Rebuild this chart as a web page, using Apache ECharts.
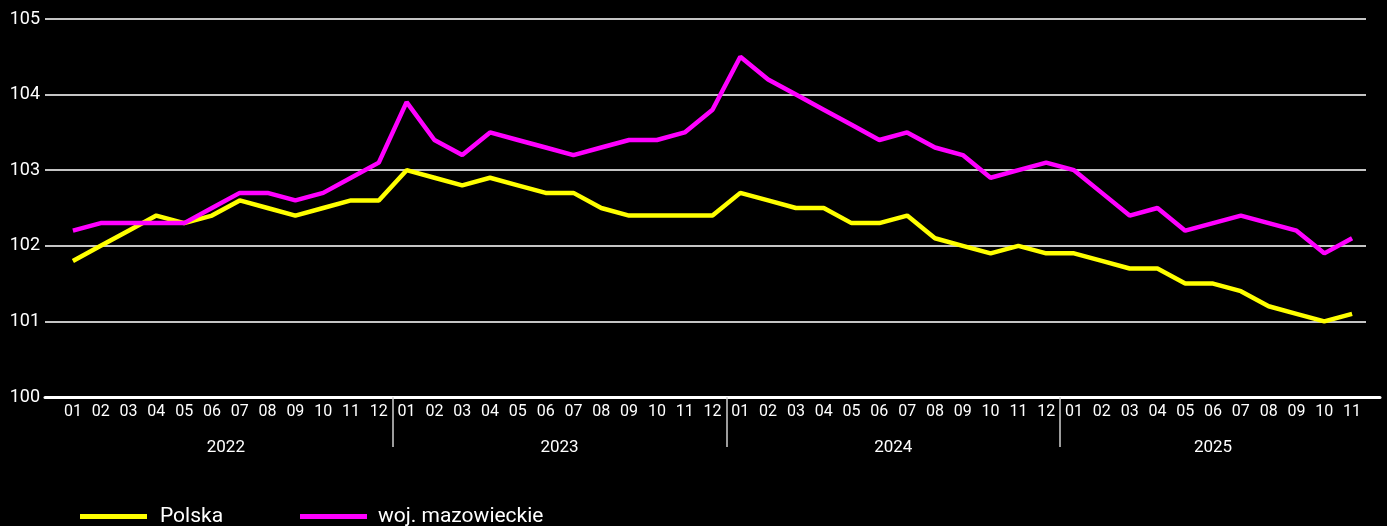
<!DOCTYPE html>
<html>
<head>
<meta charset="utf-8">
<script src="https://cdn.jsdelivr.net/npm/echarts@6/dist/echarts.min.js"></script>
<style>
html, body { margin: 0; padding: 0; background: #000; }
#main { width: 1387px; height: 526px; }
</style>
</head>
<body>
<div id="main"></div>
<script>
// miesiące (47 punktów: 2022-01 .. 2025-11)
var months = [
    '01','02','03','04','05','06','07','08','09','10','11','12',
    '01','02','03','04','05','06','07','08','09','10','11','12',
    '01','02','03','04','05','06','07','08','09','10','11','12',
    '01','02','03','04','05','06','07','08','09','10','11'
];
var years = ['2022', '2023', '2024', '2025'];
var yearLen = [12, 12, 12, 11];
var seriesNames = ['Polska', 'woj. mazowieckie'];

var polska = [
    101.8, 102.0, 102.2, 102.4, 102.3, 102.4, 102.6, 102.5, 102.4, 102.5, 102.6, 102.6,
    103.0, 102.9, 102.8, 102.9, 102.8, 102.7, 102.7, 102.5, 102.4, 102.4, 102.4, 102.4,
    102.7, 102.6, 102.5, 102.5, 102.3, 102.3, 102.4, 102.1, 102.0, 101.9, 102.0, 101.9,
    101.9, 101.8, 101.7, 101.7, 101.5, 101.5, 101.4, 101.2, 101.1, 101.0, 101.1
];
var mazowieckie = [
    102.2, 102.3, 102.3, 102.3, 102.3, 102.5, 102.7, 102.7, 102.6, 102.7, 102.9, 103.1,
    103.9, 103.4, 103.2, 103.5, 103.4, 103.3, 103.2, 103.3, 103.4, 103.4, 103.5, 103.8,
    104.5, 104.2, 104.0, 103.8, 103.6, 103.4, 103.5, 103.3, 103.2, 102.9, 103.0, 103.1,
    103.0, 102.7, 102.4, 102.5, 102.2, 102.3, 102.4, 102.3, 102.2, 101.9, 102.1
];
var yMin = 100, yMax = 105, yStep = 1;

var font = 'Roboto, "Noto Sans", sans-serif';
var colors = ['#ffff00', '#ff00ff'];

// pozycje podpisów lat i separatorów (w jednostkach indeksu kategorii)
var yearMid = [], yearSep = [], start = 0;
for (var i = 0; i < years.length; i++) {
    yearMid.push(start + (yearLen[i] - 1) / 2);
    if (i > 0) yearSep.push(start - 0.5);
    start += yearLen[i];
}
function yearOf(v) {
    for (var i = 0; i < yearMid.length; i++) {
        if (Math.abs(yearMid[i] - v) < 0.01) return years[i];
    }
    return '';
}

var chart = echarts.init(document.getElementById('main'));
chart.setOption({
    backgroundColor: '#000',
    animation: false,
    grid: [
        {left: 45, right: 21, top: 19, bottom: 129},   // siatka + oś Y
        {left: 59, right: 21, top: 19, bottom: 129},   // dane
        {left: 45, right: 7, top: 19, bottom: 129}     // linia osi X
    ],
    legend: [{
        left: 80, top: 506, padding: 0,
        icon: 'rect', itemWidth: 67, itemHeight: 5,
        data: [seriesNames[0]],
        textStyle: {color: '#fff', fontSize: 21, fontFamily: font, padding: [0, 0, 0, 8]}
    }, {
        left: 300, top: 506, padding: 0,
        icon: 'rect', itemWidth: 67, itemHeight: 5,
        data: [seriesNames[1]],
        textStyle: {color: '#fff', fontSize: 21, fontFamily: font, padding: [0, 0, 0, 6]}
    }],
    xAxis: [{
        gridIndex: 0, type: 'value', show: false
    }, {
        gridIndex: 1, type: 'category', position: 'bottom',
        data: months,
        axisLine: {show: false},
        axisTick: {show: false},
        axisLabel: {color: '#fff', fontSize: 16, fontFamily: font, margin: 7, interval: 0}
    }, {
        gridIndex: 1, type: 'value', position: 'bottom',
        min: -0.5, max: months.length - 0.5,
        axisLine: {show: false},
        splitLine: {show: false},
        axisTick: {
            show: true, inside: false, length: 50,
            customValues: yearSep,
            lineStyle: {color: '#d0d0d0', width: 1.5}
        },
        axisLabel: {
            color: '#fff', fontSize: 17, fontFamily: font, margin: 42,
            customValues: yearMid,
            formatter: yearOf
        }
    }, {
        gridIndex: 2, type: 'value', position: 'bottom',
        axisLine: {show: true, lineStyle: {color: '#fff', width: 3}},
        axisTick: {show: false},
        axisLabel: {show: false},
        splitLine: {show: false}
    }],
    yAxis: [{
        gridIndex: 0, type: 'value',
        min: yMin, max: yMax, interval: yStep,
        axisLine: {show: false},
        axisTick: {show: false},
        axisLabel: {color: '#fff', fontSize: 18, fontFamily: font, margin: 5},
        splitLine: {lineStyle: {color: '#c4c4c4', width: 2}}
    }, {
        gridIndex: 1, type: 'value', min: yMin, max: yMax, show: false
    }, {
        gridIndex: 2, type: 'value', min: yMin, max: yMax, show: false
    }],
    series: [{
        name: seriesNames[0], type: 'line',
        xAxisIndex: 1, yAxisIndex: 1,
        data: polska,
        symbol: 'none',
        color: colors[0],
        lineStyle: {color: colors[0], width: 4.5}
    }, {
        name: seriesNames[1], type: 'line',
        xAxisIndex: 1, yAxisIndex: 1,
        data: mazowieckie,
        symbol: 'none',
        color: colors[1],
        lineStyle: {color: colors[1], width: 4.5}
    }]
});
</script>
</body>
</html>
